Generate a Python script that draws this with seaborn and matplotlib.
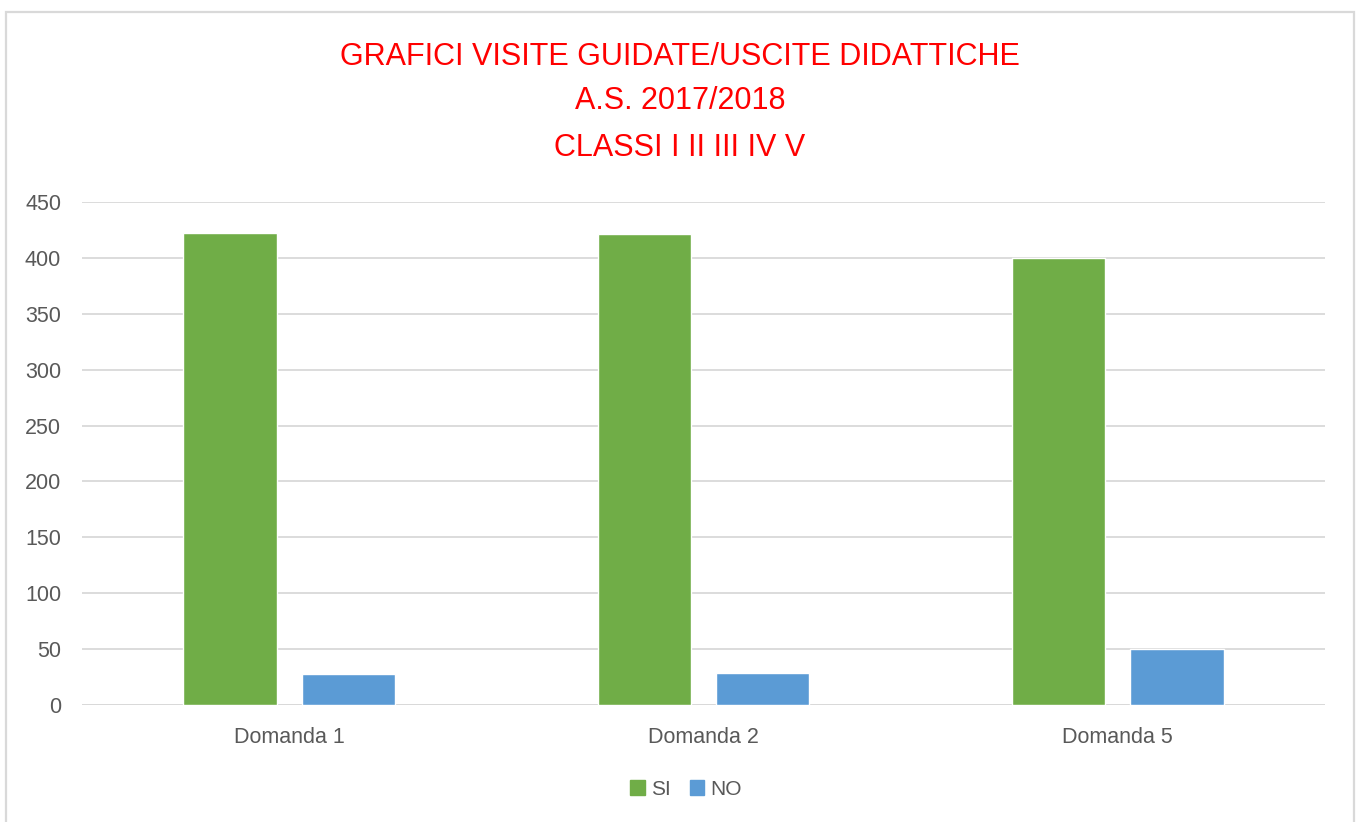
import matplotlib
matplotlib.use("Agg")
import matplotlib.pyplot as plt
import seaborn as sns
import pandas as pd
from matplotlib.patches import Rectangle

categories = ["Domanda 1", "Domanda 2", "Domanda 5"]
si_values = [422, 421, 400]
no_values = [28, 29, 50]
series_names = ["SI", "NO"]
yticks = [0, 50, 100, 150, 200, 250, 300, 350, 400, 450]

df = pd.DataFrame({
    "cat": categories * 2,
    "serie": [series_names[0]] * 3 + [series_names[1]] * 3,
    "val": si_values + no_values,
})

sns.set_theme(style="white")
plt.rcParams['font.family'] = ['Liberation Sans', 'DejaVu Sans']

fig = plt.figure(figsize=(13.62, 8.22), dpi=100)
ax = fig.add_axes([82/1362, 1-705/822, (1325-82)/1362, (705-202)/822])

sns.barplot(data=df, x="cat", y="val", hue="serie", order=categories,
            hue_order=series_names, palette=["#70AD47", "#5B9BD5"],
            width=0.57, gap=0.21, ax=ax, legend=False, saturation=1)

ax.set_ylim(0, 450)
ax.set_xlim(-0.5, 2.5)
ax.set_yticks(yticks)
ax.yaxis.grid(True, color="#D9D9D9", linewidth=1.3)
ax.set_axisbelow(True)
for s in ax.spines.values():
    s.set_visible(False)
ax.axhline(0, color="#D9D9D9", linewidth=1.3, zorder=0.5)
ax.set_xlabel("")
ax.set_ylabel("")
ax.tick_params(axis="both", length=0, labelsize=15.5, colors="#595959")
ax.tick_params(axis="y", pad=15)
ax.tick_params(axis="x", pad=16)

handles = [Rectangle((0, 0), 1, 1, color="#70AD47"), Rectangle((0, 0), 1, 1, color="#5B9BD5")]
fig.legend(handles, series_names, loc="center", bbox_to_anchor=(686/1362, 1-789/822),
           ncol=2, frameon=False, fontsize=15, handlelength=0.7, handleheight=0.7,
           handletextpad=0.3, columnspacing=0.9, labelcolor="#595959")

fig.text(680/1362, 1-57/822, "GRAFICI VISITE GUIDATE/USCITE DIDATTICHE", color="#FF0000",
         fontsize=22, ha="center", va="center")
fig.text(680/1362, 1-101/822, "A.S. 2017/2018", color="#FF0000",
         fontsize=22, ha="center", va="center")
fig.text(680/1362, 1-148/822, "CLASSI I II III IV V", color="#FF0000",
         fontsize=22, ha="center", va="center")

fig.patches.append(Rectangle((6/1362, -0.01), (1354-6)/1362, 1 - 12/822 + 0.01,
                             transform=fig.transFigure, fill=False,
                             edgecolor="#D9D9D9", linewidth=1.6))

fig.savefig("out.png", dpi=100, facecolor="white")
